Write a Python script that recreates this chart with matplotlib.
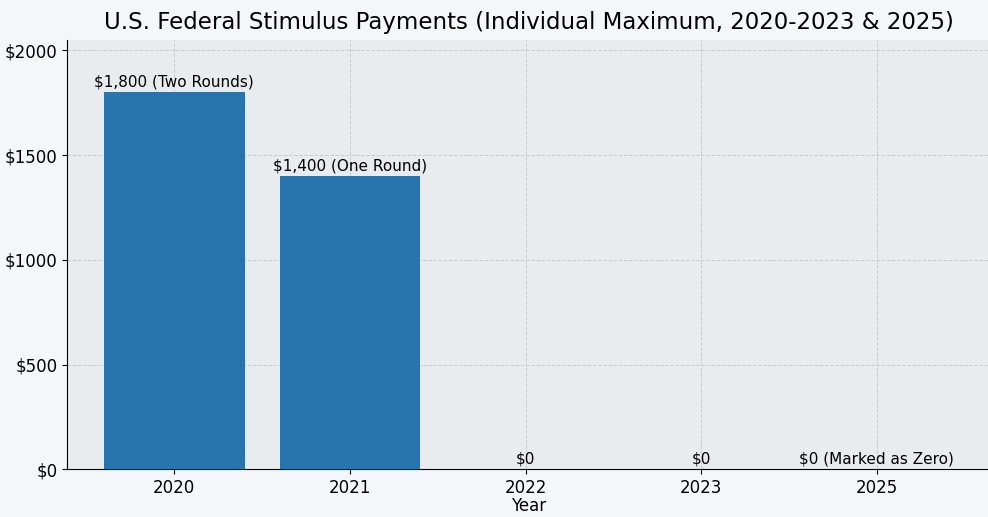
import matplotlib
matplotlib.use("Agg")
import matplotlib.pyplot as plt

years = ["2020", "2021", "2022", "2023", "2025"]
amounts = [1800, 1400, 0, 0, 0]
labels = ["$1,800 (Two Rounds)", "$1,400 (One Round)", "$0", "$0", "$0 (Marked as Zero)"]
yticks = [0, 500, 1000, 1500, 2000]

fig = plt.figure(figsize=(9.88, 5.17), dpi=100, facecolor="#f4f7f9")
ax = fig.add_axes([0.068, 0.092, 0.935, 0.83])
ax.set_facecolor("#e9ecef")
x = range(len(years))
ax.bar(x, amounts, width=0.8, color="#2874ad", zorder=3)
for xi, v, t in zip(x, amounts, labels):
    ax.text(xi, v + 12, t, ha="center", va="bottom", fontsize=11, zorder=4)
ax.set_xticks(list(x))
ax.set_xticklabels(years, fontsize=12)
ax.set_yticks(yticks)
ax.set_yticklabels([f"${v}" for v in yticks], fontsize=12)
ax.set_xlim(-0.61, 4.65)
ax.set_ylim(0, 2048)
ax.set_xlabel("Year", fontsize=12, labelpad=0)
ax.set_title("U.S. Federal Stimulus Payments (Individual Maximum, 2020-2023 & 2025)", fontsize=16.5, pad=8)
ax.grid(True, linestyle="--", color="#c8cbce", linewidth=0.7, zorder=0)
for s in ["top", "right"]:
    ax.spines[s].set_visible(False)
fig.savefig("out.png", dpi=100, facecolor=fig.get_facecolor())
